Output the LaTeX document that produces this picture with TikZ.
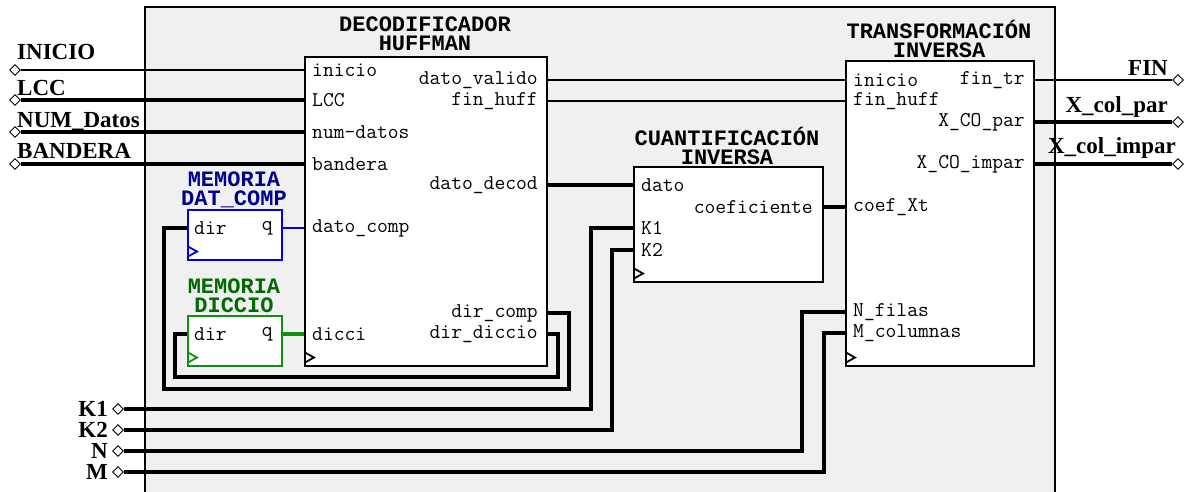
\documentclass[tikz,border=0pt]{standalone}
\usepackage{fontspec}
\setmainfont{Liberation Serif}
\newfontfamily\titfont{Liberation Mono}
\usetikzlibrary{positioning,shapes.geometric}
\definecolor{fondo}{HTML}{F0F0F0}
\definecolor{azulcaja}{HTML}{0000E0}
\definecolor{azultit}{HTML}{000090}
\definecolor{verdecaja}{HTML}{109010}
\definecolor{verdetit}{HTML}{006A00}
\begin{document}
\begin{tikzpicture}[x=1pt,y=-1pt,line join=miter,
  bloque/.style={draw,fill=white,line width=1.5pt,inner sep=0pt,anchor=north west},
  puerto/.style={font=\ttfamily\fontsize{21}{21}\selectfont,inner sep=0pt},
  titulo/.style={font=\titfont\bfseries\fontsize{22}{19}\selectfont,align=center,inner sep=0pt},
  senal/.style={font=\bfseries\fontsize{23}{23}\selectfont,inner sep=0pt},
  pin/.style={draw,fill=white,diamond,minimum size=11pt,inner sep=0pt,line width=0.9pt},
  fino/.style={line width=1.8pt},
  grueso/.style={line width=4.5pt},
  reloj/.style={line width=1.8pt}]
\clip (0,0) rectangle (1194,491);
\draw[fill=fondo,line width=1.6pt] (145,7) rectangle (1055,520);

% bloques
\node[bloque,minimum width=242pt,minimum height=309pt] (huff) at (304,56) {};
\node[bloque,draw=azulcaja,minimum width=94pt,minimum height=50pt] (memc) at (187,209) {};
\node[bloque,draw=verdecaja,minimum width=94pt,minimum height=50pt] (memd) at (187,315) {};
\node[bloque,minimum width=189pt,minimum height=115pt] (cuan) at (633,166) {};
\node[bloque,minimum width=188pt,minimum height=305pt] (tran) at (845,60) {};

\node[titulo] (thuff) at (425,34) {DECODIFICADOR\\HUFFMAN};
\node[titulo,text=azultit] (tmemc) at (234,190) {MEMORIA\\DAT\_COMP};
\node[titulo,text=verdetit] (tmemd) at (234,296) {MEMORIA\\DICCIO};
\node[titulo] (tcuan) at (727,146) {CUANTIFICACIÓN\\INVERSA};
\node[titulo] (ttran) at (939,39) {TRANSFORMACIÓN\\INVERSA};

% puertos
\foreach \y/\t [count=\i] in {70/inicio,100/LCC,132/num-datos,164/bandera,228/dato\_comp,334/dicci}
  {\coordinate (hl\i) at (304,\y); \node[puerto,right=8pt of hl\i] (hlt\i) {\t};}
\foreach \y/\t [count=\i] in {80/dato\_valido,101/fin\_huff,185/dato\_decod,313/dir\_comp,334/dir\_diccio}
  {\coordinate (hr\i) at (546,\y); \node[puerto,left=8pt of hr\i] (hrt\i) {\t};}
\foreach \y/\t [count=\i] in {185/dato,228/K1,250/K2}
  {\coordinate (cl\i) at (633,\y); \node[puerto,right=8pt of cl\i] (clt\i) {\t};}
\coordinate (cr1) at (822,207); \node[puerto,left=9pt of cr1] (crt1) {coeficiente};
\foreach \y/\t [count=\i] in {80/inicio,101/fin\_huff,207/coef\_Xt,312/N\_filas,333/M\_columnas}
  {\coordinate (tl\i) at (845,\y); \node[puerto,right=8pt of tl\i] (tlt\i) {\t};}
\foreach \y/\t [count=\i] in {80/fin\_tr,122/X\_CO\_par,164/X\_CO\_impar}
  {\coordinate (tr\i) at (1033,\y); \node[puerto,left=8pt of tr\i] (trt\i) {\t};}
\foreach \m/\y in {mc/228,md/334}
  {\coordinate (\m d) at (187,\y); \coordinate (\m q) at (281,\y);
   \node[puerto,right=7pt of \m d] (\m dt) {dir}; \node[puerto,left=8pt of \m q] (\m qt) {q};}

\foreach \b/\c in {huff/black,memc/azulcaja,memd/verdecaja,cuan/black,tran/black}
  \draw[reloj,\c] (\b.south west) ++(1,-14) -- ++(9,5) -- ++(-9,5);

% entradas y salidas
\foreach \y/\b/\n/\t in {70/59/INICIO/INICIO,100/95/LCC/LCC,132/127/NUM/NUM\_Datos,164/158/BANDERA/BANDERA}
  {\node[pin] (p\n) at (15,\y) {}; \node[senal,anchor=base west] (l\n) at (17,\b) {\t};}
\foreach \y/\n in {409/K1,430/K2,451/N,472/M}
  {\node[pin] (p\n) at (118,\y) {}; \node[senal,left=4pt of p\n] (l\n) {\n};}
\foreach \y/\n in {80/FIN,122/XP,164/XI} \node[pin] (p\n) at (1178,\y) {};
\node[senal,anchor=base east] (lFIN) at (1168,75) {FIN};
\node[senal,anchor=base east] (lXP) at (1168,112) {X\_col\_par};
\node[senal,anchor=base east] (lXI) at (1176,153) {X\_col\_impar};

% conexiones
\draw[fino] (pINICIO) -- (hl1);
\foreach \n/\i in {LCC/2,NUM/3,BANDERA/4} \draw[grueso] (p\n) -- (hl\i);
\draw[fino,azulcaja] (mcq) -- (hl5);
\draw[grueso,verdecaja] (mdq) -- (hl6);
\draw[grueso] (hr4) -- ++(23,0) -- ++(0,76) -| ([xshift=-23pt]mcd) -- (mcd);
\draw[grueso] (hr5) -- ++(12,0) -- ++(0,43) -| ([xshift=-12pt]mdd) -- (mdd);
\draw[fino] (hr1) -- (tl1);
\draw[fino] (hr2) -- (tl2);
\draw[grueso] (hr3) -- (cl1);
\draw[grueso] (pK1) -| ([xshift=-42pt]cl2) -- (cl2);
\draw[grueso] (pK2) -| ([xshift=-21pt]cl3) -- (cl3);
\draw[grueso] (cr1) -- (tl3);
\draw[grueso] (pN) -| ([xshift=-43pt]tl4) -- (tl4);
\draw[grueso] (pM) -| ([xshift=-21pt]tl5) -- (tl5);
\draw[fino] (tr1) -- (pFIN);
\draw[grueso] (tr2) -- (pXP);
\draw[grueso] (tr3) -- (pXI);
\end{tikzpicture}
\end{document}
